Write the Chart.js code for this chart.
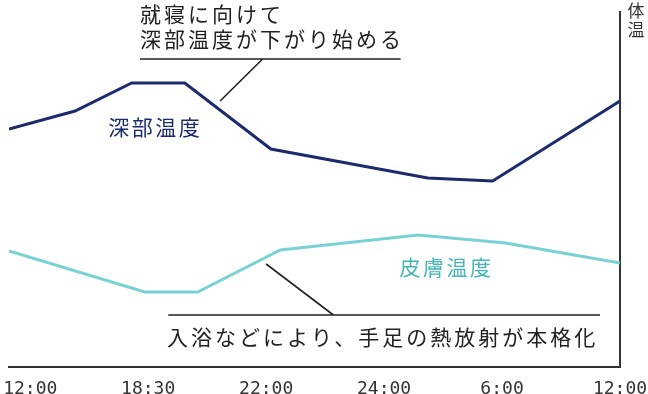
<!DOCTYPE html>
<html lang="ja">
<head>
<meta charset="utf-8">
<title>体温の変化</title>
<script src="https://cdn.jsdelivr.net/npm/chart.js@4.4.1/dist/chart.umd.min.js"></script>
<style>
  html, body { margin: 0; padding: 0; background: #fff; }
  #wrap { width: 648px; height: 394px; position: relative; }
</style>
</head>
<body>
<div id="wrap"><canvas id="chart-temp"></canvas></div>
<script>
// ── Data ───────────────────────────────────────────
// x: evenly spaced time slots (0 = 12:00 … 5 = 12:00 next day)
const tickLabels = ['12:00', '18:30', '22:00', '24:00', '6:00', '12:00'];

const coreX = [-0.18, 0.38, 0.86, 1.31, 2.04, 3.37, 3.92, 5];
const coreY = [23.8, 25.6, 28.4, 28.4, 21.8, 18.9, 18.6, 26.6];

const skinX = [-0.18, 0.97, 1.42, 2.12, 3.29, 4.03, 5];
const skinY = [11.6, 7.5, 7.5, 11.7, 13.2, 12.4, 10.4];

const NAVY      = '#1c2b6d';
const TEAL      = '#78d2d5';
const TEAL_TEXT = '#45b6b8';
const INK       = '#222';
const JP_FONT   = "'Noto Sans CJK JP', 'Noto Sans', sans-serif";

// ── Annotations (text + leader lines) ──────────────
const notes = {
  bedtime: {
    lines: ['就寝に向けて', '深部温度が下がり始める'],
    x: 0.93, y: [35.3, 32.8],
    rule: [0.93, 3.14, 30.8],
    leader: [1.97, 30.8, 1.61, 26.6]
  },
  bath: {
    lines: ['入浴などにより、手足の熱放射が本格化'],
    x: 1.16, y: [3.0],
    rule: [1.17, 4.83, 5.2],
    leader: [2.0, 10.3, 2.57, 5.2]
  }
};

const annotationPlugin = {
  id: 'notes',
  afterDatasetsDraw(chart) {
    const { ctx, scales: { x, y } } = chart;
    ctx.save();

    // series labels
    ctx.font = '21px ' + JP_FONT;
    ctx.letterSpacing = '2.5px';
    ctx.textAlign = 'center';
    ctx.textBaseline = 'middle';
    ctx.fillStyle = NAVY;
    ctx.fillText('深部温度', x.getPixelForValue(1.06), y.getPixelForValue(24.0));
    ctx.fillStyle = TEAL_TEXT;
    ctx.fillText('皮膚温度', x.getPixelForValue(3.53), y.getPixelForValue(10.0));

    // callouts
    ctx.letterSpacing = '3px';
    ctx.textAlign = 'left';
    ctx.fillStyle = INK;
    ctx.strokeStyle = INK;
    ctx.lineWidth = 1.6;
    Object.values(notes).forEach(n => {
      n.lines.forEach((t, i) => {
        ctx.fillText(t, x.getPixelForValue(n.x), y.getPixelForValue(n.y[i]));
      });
      ctx.beginPath();
      ctx.moveTo(x.getPixelForValue(n.rule[0]), y.getPixelForValue(n.rule[2]));
      ctx.lineTo(x.getPixelForValue(n.rule[1]), y.getPixelForValue(n.rule[2]));
      ctx.moveTo(x.getPixelForValue(n.leader[0]), y.getPixelForValue(n.leader[1]));
      ctx.lineTo(x.getPixelForValue(n.leader[2]), y.getPixelForValue(n.leader[3]));
      ctx.stroke();
    });

    // axis title (vertical)
    ctx.letterSpacing = '0px';
    ctx.font = '17px ' + JP_FONT;
    ctx.fillStyle = '#333';
    ctx.textAlign = 'center';
    ctx.fillText('体', x.right + 16, y.top - 1);
    ctx.fillText('温', x.right + 16, y.top + 18);
    ctx.restore();
  }
};

new Chart(document.getElementById('chart-temp'), {
  type: 'line',
  data: {
    datasets: [
      {
        label: '深部温度',
        data: coreX.map((v, i) => ({ x: v, y: coreY[i] })),
        borderColor: NAVY,
        borderWidth: 3,
        pointRadius: 0,
        tension: 0
      },
      {
        label: '皮膚温度',
        data: skinX.map((v, i) => ({ x: v, y: skinY[i] })),
        borderColor: TEAL,
        borderWidth: 3,
        pointRadius: 0,
        tension: 0
      }
    ]
  },
  options: {
    responsive: true,
    maintainAspectRatio: false,
    animation: false,
    layout: { padding: { left: 9, top: 12, right: 0, bottom: 0 } },
    plugins: { legend: { display: false }, tooltip: { enabled: false } },
    scales: {
      x: {
        type: 'linear',
        min: -0.18,
        max: 5,
        afterBuildTicks: s => { s.ticks = tickLabels.map((_, i) => ({ value: i })); },
        afterFit: s => { s.height = 27; s.paddingLeft = 0; s.paddingRight = 0; },
        grid: { display: false },
        border: { display: true, color: '#333', width: 2 },
        ticks: {
          autoSkip: false,
          maxRotation: 0,
          padding: 4,
          color: '#333',
          font: { family: "'DejaVu Sans Mono', monospace", size: 18 },
          callback: v => tickLabels[v]
        }
      },
      y: {
        position: 'right',
        min: 0,
        max: 35.5,
        afterFit: s => { s.width = 28; s.paddingTop = 0; s.paddingBottom = 0; },
        grid: { display: false },
        border: { display: true, color: '#333', width: 2 },
        ticks: { display: false }
      }
    }
  },
  plugins: [annotationPlugin]
});
</script>
</body>
</html>
